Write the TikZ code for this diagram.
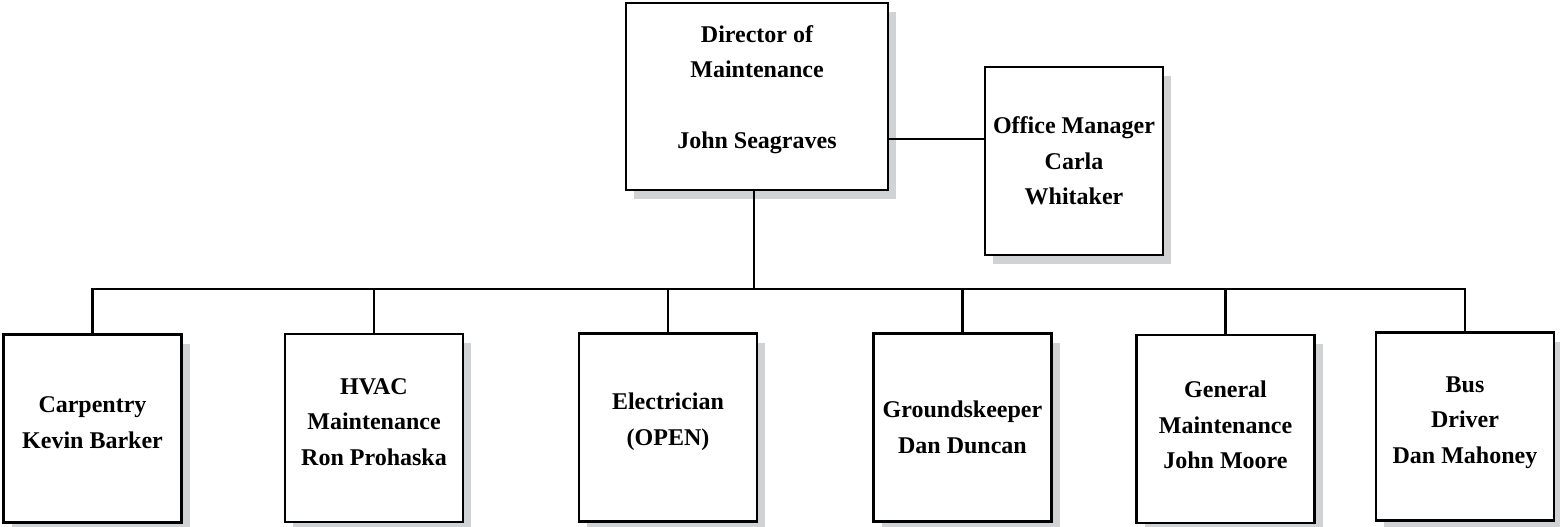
\documentclass[tikz,border=0pt]{standalone}
\usepackage{fontspec}
\setmainfont{Liberation Serif}
\usetikzlibrary{shadows}
\definecolor{shadowgray}{RGB}{209,210,212}
\begin{document}
\begin{tikzpicture}[x=0.5pt,y=-0.5pt,
  box/.style={draw=black,line width=1.4pt,fill=white,inner sep=0pt,
    minimum width=#1*0.5pt,minimum height=94pt,
    drop shadow={shadow xshift=4pt,shadow yshift=-4.5pt,fill=shadowgray,opacity=1}},
  box/.default=178,
  lbl/.style={align=center,inner sep=0pt,font=\fontsize{12}{17.75}\selectfont\bfseries},
  conn/.style={line width=1.4pt}]
\useasboundingbox (0,0) rectangle (1560,526);
% boxes
\node[box=262,minimum height=93.5pt] (dir) at (757,96.5) {};
\node[box] (off) at (1074,161) {};
\node[box] (carp) at (92.5,428.5) {};
\node[box] (hvac) at (374,428) {};
\node[box] (elec) at (668,427.5) {};
\node[box] (grnd) at (962.5,427.5) {};
\node[box] (gen) at (1225.5,429) {};
\node[box] (bus) at (1465,426.5) {};
% labels
\node[lbl] (tdir) at ([yshift=3.5pt]dir.center) {Director of\\Maintenance\\[17.75pt]John Seagraves};
\node[lbl] (toff) at (off.center) {Office Manager\\Carla\\Whitaker};
\node[lbl] (tcarp) at ([yshift=3pt]carp.center) {Carpentry\\Kevin Barker};
\node[lbl] (thvac) at ([yshift=3pt]hvac.center) {HVAC\\Maintenance\\Ron Prohaska};
\node[lbl] (telec) at ([yshift=3pt]elec.center) {Electrician\\(OPEN)};
\node[lbl] (tgrnd) at (grnd.center) {Groundskeeper\\Dan Duncan};
\node[lbl] (tgen) at ([yshift=2pt]gen.center) {General\\Maintenance\\John Moore};
\node[lbl] (tbus) at ([yshift=2pt]bus.center) {Bus\\Driver\\Dan Mahoney};
% connectors
\coordinate (busline) at (754,289);
\draw[conn] (dir.east |- 0,139) -- (off.west |- 0,139);
\draw[conn] (dir.south -| busline) -- (busline);
\draw[conn] (carp.north) -- (carp.north |- busline) -- (bus.north |- busline) -- (bus.north);
\foreach \n in {hvac,elec,grnd,gen}
  \draw[conn] (\n.north) -- (\n.north |- busline);
\end{tikzpicture}
\end{document}
